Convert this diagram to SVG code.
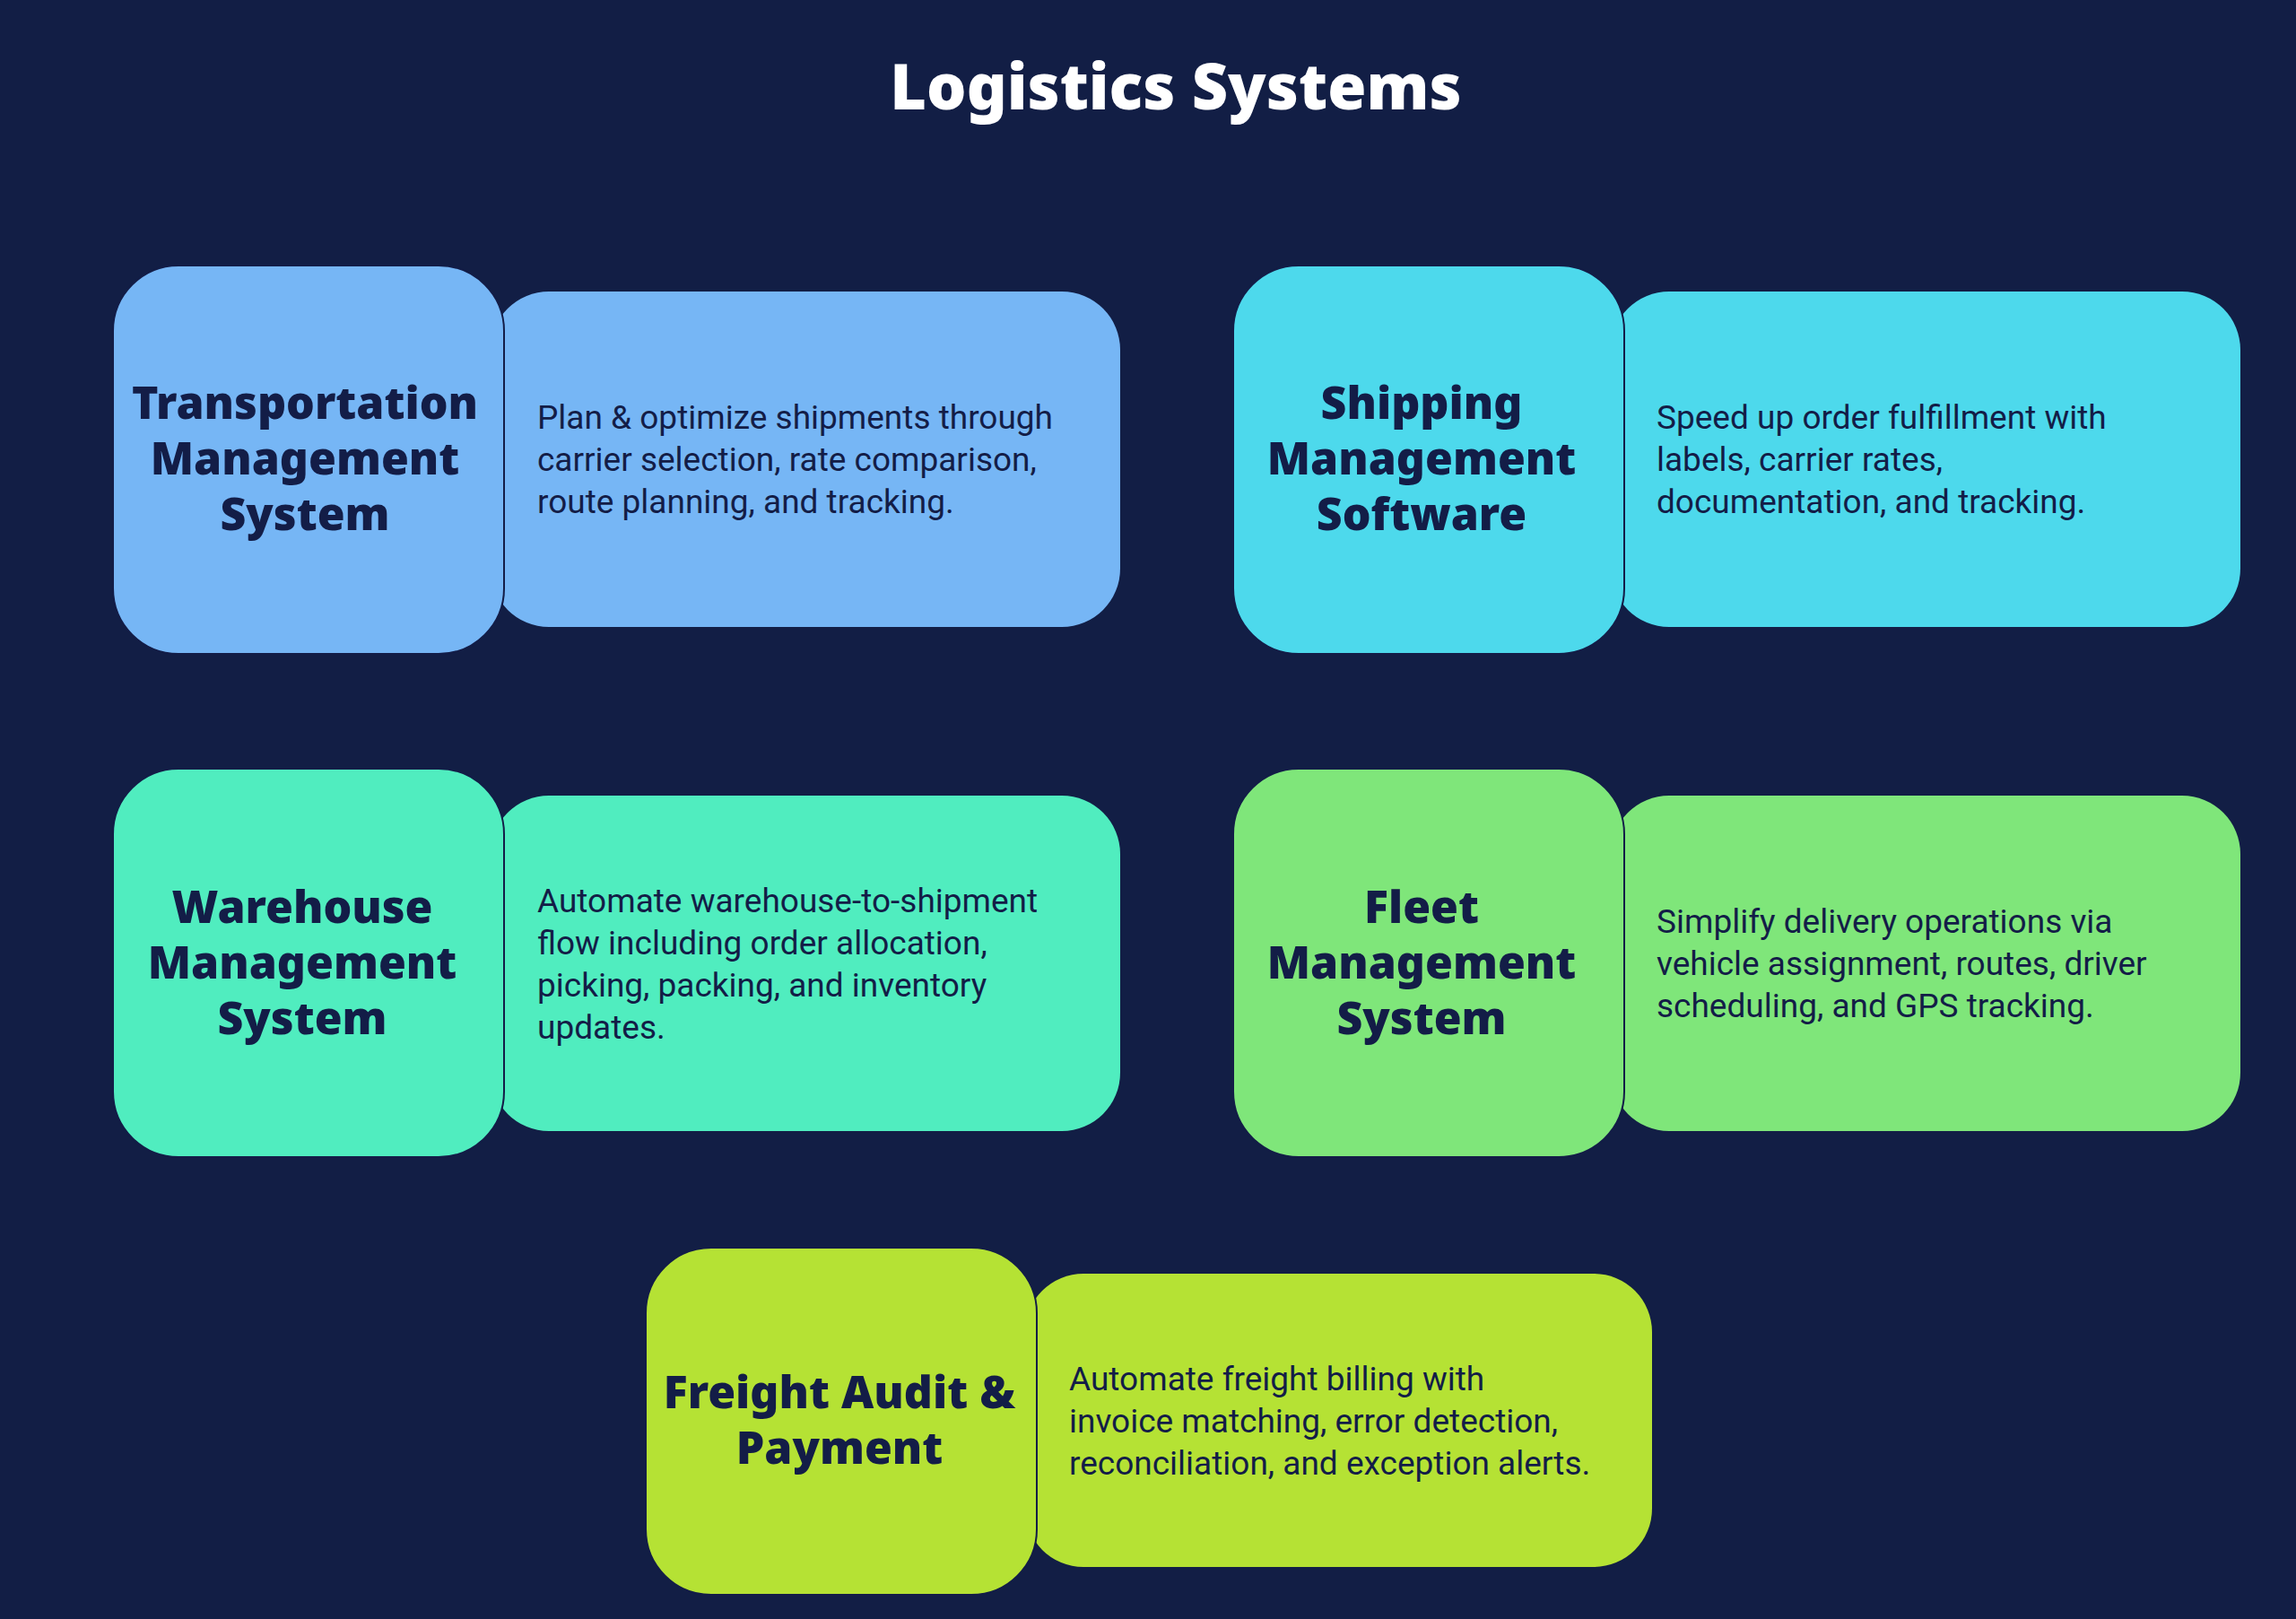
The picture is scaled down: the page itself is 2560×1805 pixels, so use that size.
<svg xmlns="http://www.w3.org/2000/svg" width="2560" height="1805" viewBox="0 0 2560 1805">
<style>
.h{font-family:"Noto Sans","Liberation Sans",sans-serif;font-weight:900;font-size:50px;fill:#131D47;text-anchor:middle}
.d{font-family:Roboto,"Liberation Sans",sans-serif;font-size:37px;fill:#131D47}
.l{stroke:#131D47;stroke-width:2}
</style>
<rect width="2560" height="1805" fill="#121E45"/>
<text x="1311" y="122" font-family="'Noto Sans','Liberation Sans',sans-serif" font-weight="900" font-size="70" fill="#FFFFFF" text-anchor="middle">Logistics Systems</text>
<g id="connectors"/>
<g id="tms">
<rect x="547" y="325" width="702" height="374" rx="65" fill="#76B6F5"/>
<rect class="l" x="126" y="296" width="436" height="433" rx="73" fill="#76B6F5"/>
<text class="h"><tspan x="340" y="467">Transportation</tspan><tspan x="340" y="529">Management</tspan><tspan x="340" y="591">System</tspan></text>
<text class="d"><tspan x="599" y="478">Plan &amp; optimize shipments through</tspan><tspan x="599" y="525">carrier selection, rate comparison,</tspan><tspan x="599" y="572">route planning, and tracking.</tspan></text>
</g>
<g id="sms">
<rect x="1796" y="325" width="702" height="374" rx="65" fill="#4DD9EC"/>
<rect class="l" x="1375" y="296" width="436" height="433" rx="73" fill="#4DD9EC"/>
<text class="h"><tspan x="1585" y="467">Shipping</tspan><tspan x="1585" y="529">Management</tspan><tspan x="1585" y="591">Software</tspan></text>
<text class="d"><tspan x="1847" y="478">Speed up order fulfillment with</tspan><tspan x="1847" y="525">labels, carrier rates,</tspan><tspan x="1847" y="572">documentation, and tracking.</tspan></text>
</g>
<g id="wms">
<rect x="547" y="887" width="702" height="374" rx="65" fill="#50EDBF"/>
<rect class="l" x="126" y="857" width="436" height="433" rx="73" fill="#50EDBF"/>
<text class="h"><tspan x="337" y="1029">Warehouse</tspan><tspan x="337" y="1091">Management</tspan><tspan x="337" y="1153">System</tspan></text>
<text class="d"><tspan x="599" y="1017">Automate warehouse-to-shipment</tspan><tspan x="599" y="1064">flow including order allocation,</tspan><tspan x="599" y="1111">picking, packing, and inventory</tspan><tspan x="599" y="1158">updates.</tspan></text>
</g>
<g id="fms">
<rect x="1796" y="887" width="702" height="374" rx="65" fill="#7FE67A"/>
<rect class="l" x="1375" y="857" width="436" height="433" rx="73" fill="#7FE67A"/>
<text class="h"><tspan x="1585" y="1029">Fleet</tspan><tspan x="1585" y="1091">Management</tspan><tspan x="1585" y="1153">System</tspan></text>
<text class="d"><tspan x="1847" y="1040">Simplify delivery operations via</tspan><tspan x="1847" y="1087">vehicle assignment, routes, driver</tspan><tspan x="1847" y="1134">scheduling, and GPS tracking.</tspan></text>
</g>
<g id="fap">
<rect x="1143" y="1420" width="699" height="327" rx="65" fill="#B5E234"/>
<rect class="l" x="720" y="1391" width="436" height="387" rx="73" fill="#B5E234"/>
<text class="h"><tspan x="936" y="1570">Freight Audit &amp;</tspan><tspan x="936" y="1632">Payment</tspan></text>
<text class="d"><tspan x="1192" y="1550">Automate freight billing with</tspan><tspan x="1192" y="1597">invoice matching, error detection,</tspan><tspan x="1192" y="1644">reconciliation, and exception alerts.</tspan></text>
</g>
</svg>
